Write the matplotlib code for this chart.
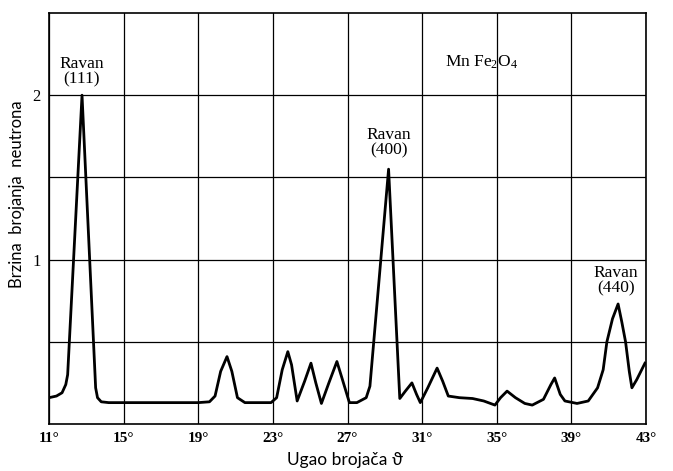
import matplotlib
matplotlib.use('Agg')
import matplotlib.pyplot as plt

plt.rcParams['font.family'] = ['Liberation Serif', 'DejaVu Serif']
plt.rcParams['mathtext.fontset'] = 'custom'
plt.rcParams['mathtext.rm'] = 'Liberation Serif'
plt.rcParams['mathtext.it'] = 'Liberation Serif:italic'

# measured curve (angle in degrees, counting rate)
angle = [11.0, 11.4, 11.7, 11.9, 12.0, 12.77, 13.5, 13.6, 13.8, 14.2,
         19.0, 19.6, 19.9, 20.2, 20.54, 20.8, 21.1, 21.5, 22.9,
         23.2, 23.5, 23.8, 24.0, 24.3, 24.7, 25.04, 25.3, 25.6, 26.0, 26.43,
         26.7, 27.1, 27.5, 28.0, 28.2, 29.2, 29.8,
         30.1, 30.45, 30.7, 30.9, 31.3, 31.8, 32.1, 32.4, 33.0, 33.7,
         34.3, 34.9, 35.2, 35.55, 36.0, 36.5, 36.9, 37.5, 37.9, 38.1, 38.4,
         38.65, 39.3, 39.9, 40.4, 40.7, 40.9, 41.2, 41.5, 41.7, 41.9, 42.1,
         42.24, 42.5, 42.94]
rate = [0.16, 0.17, 0.19, 0.24, 0.30, 2.0, 0.22, 0.16, 0.135, 0.13,
        0.13, 0.135, 0.17, 0.32, 0.41, 0.32, 0.16, 0.13, 0.13,
        0.16, 0.33, 0.44, 0.36, 0.14, 0.26, 0.37, 0.25, 0.125, 0.25, 0.38,
        0.28, 0.13, 0.13, 0.16, 0.23, 1.55, 0.155,
        0.2, 0.25, 0.18, 0.13, 0.22, 0.34, 0.26, 0.17, 0.16, 0.155,
        0.14, 0.115, 0.16, 0.2, 0.16, 0.125, 0.115, 0.15, 0.24, 0.28, 0.18,
        0.14, 0.125, 0.14, 0.22, 0.33, 0.5, 0.64, 0.73, 0.62, 0.5, 0.32,
        0.22, 0.27, 0.37]

xticks = [11, 15, 19, 23, 27, 31, 35, 39, 43]
peaks = [(12.75, 2.14, 'Ravan\n(111)'), (29.2, 1.71, 'Ravan\n(400)'),
         (41.4, 0.87, 'Ravan\n(440)')]

fig = plt.figure(figsize=(6.73, 4.71), dpi=100)
ax = fig.add_axes([0.0728, 0.0998, 0.8872, 0.8726])

ax.set_xlim(11, 43)
ax.set_ylim(0, 2.5)
ax.set_xticks(xticks)
ax.set_xticklabels([f'{t}°' for t in xticks], fontsize=11, fontweight='bold')
ax.set_yticks([0.5, 1, 1.5, 2], labels=['', '1', '', '2'], fontsize=12)
ax.tick_params(length=0, pad=6)
ax.grid(True, color='black', linewidth=0.9)
for s in ax.spines.values():
    s.set_linewidth(1.2)

ax.plot(angle, rate, color='black', linewidth=2.0, solid_joinstyle='round')

for x, y, txt in peaks:
    ax.text(x, y, txt, ha='center', va='center', fontsize=12.5, linespacing=0.95)
ax.text(34.2, 2.2, 'Mn Fe$_2$O$_4$', ha='center', va='center', fontsize=12.5)

ax.set_xlabel('Ugao brojača ϑ', fontsize=12.5, family=['Lato', 'DejaVu Sans'])
ax.xaxis.set_label_coords(0.495, -0.068)
ax.set_ylabel('Brzina  brojanja  neutrona', fontsize=12, family=['Lato', 'DejaVu Sans'])
ax.yaxis.set_label_coords(-0.04, 0.56)

fig.savefig('out.png', dpi=100)
